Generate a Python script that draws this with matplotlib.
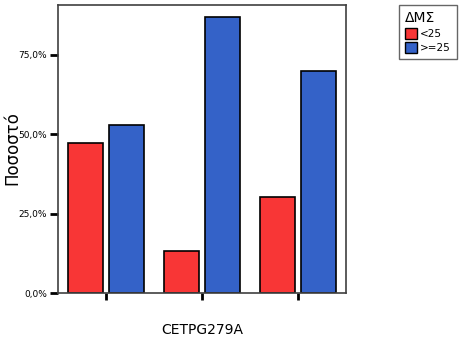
import matplotlib
matplotlib.use("Agg")
import matplotlib.pyplot as plt
import numpy as np
from matplotlib.patches import Patch
from matplotlib.ticker import FuncFormatter

# Data
groups = ["1", "2", "3"]
low_bmi = [47.2, 13.1, 30.1]     # <25
high_bmi = [52.8, 86.9, 69.9]    # >=25
series_labels = ["<25", ">=25"]
legend_title = "ΔΜΣ"
yticks = [0, 25, 50, 75]

RED = "#f83636"
BLUE = "#3462c8"
EDGE = "#404040"

fig = plt.figure(figsize=(4.61, 3.41), dpi=100)
ax = fig.add_axes([58 / 461, 48 / 341, 288 / 461, 288 / 341])

x = np.arange(len(groups))
width = 0.365
offset = 0.213
ax.bar(x - offset, low_bmi, width, color=RED, edgecolor="black", linewidth=1.2)
ax.bar(x + offset, high_bmi, width, color=BLUE, edgecolor="black", linewidth=1.2)

ax.set_xlim(-0.5, 2.5)
ax.set_ylim(0, 90.6)
ax.set_xticks(x)
ax.set_xticklabels([])
ax.set_yticks(yticks)
ax.yaxis.set_major_formatter(FuncFormatter(lambda v, p: f"{v:.1f}%".replace(".", ",")))
ax.tick_params(axis="y", length=6, width=2, color="black", labelsize=6.5, pad=2)
ax.tick_params(axis="x", length=5, width=2, color="black")

for s in ax.spines.values():
    s.set_color(EDGE)
    s.set_linewidth(1.2)

# axis titles placed in figure pixels, as in the reference
fig.text(12 / 461, 1 - 148 / 341, "Ποσοστό", fontsize=12, rotation=90,
         ha="center", va="center")
fig.text(202 / 461, 1 - 330 / 341, "CETPG279A", fontsize=10,
         ha="center", va="center")

handles = [Patch(facecolor=RED, edgecolor="black"), Patch(facecolor=BLUE, edgecolor="black")]
leg = fig.legend(handles, series_labels, title=legend_title, loc="upper left",
                 bbox_to_anchor=(399 / 461, 1 - 5 / 341), fontsize=7.5,
                 title_fontsize=10, frameon=True, fancybox=False,
                 handlelength=1.1, handleheight=1.2, handletextpad=0.3,
                 borderpad=0.6, labelspacing=0.3, alignment="left",
                 borderaxespad=0)
leg.get_frame().set_edgecolor(EDGE)
leg.get_frame().set_linewidth(1.0)

fig.savefig("out.png", dpi=100)
